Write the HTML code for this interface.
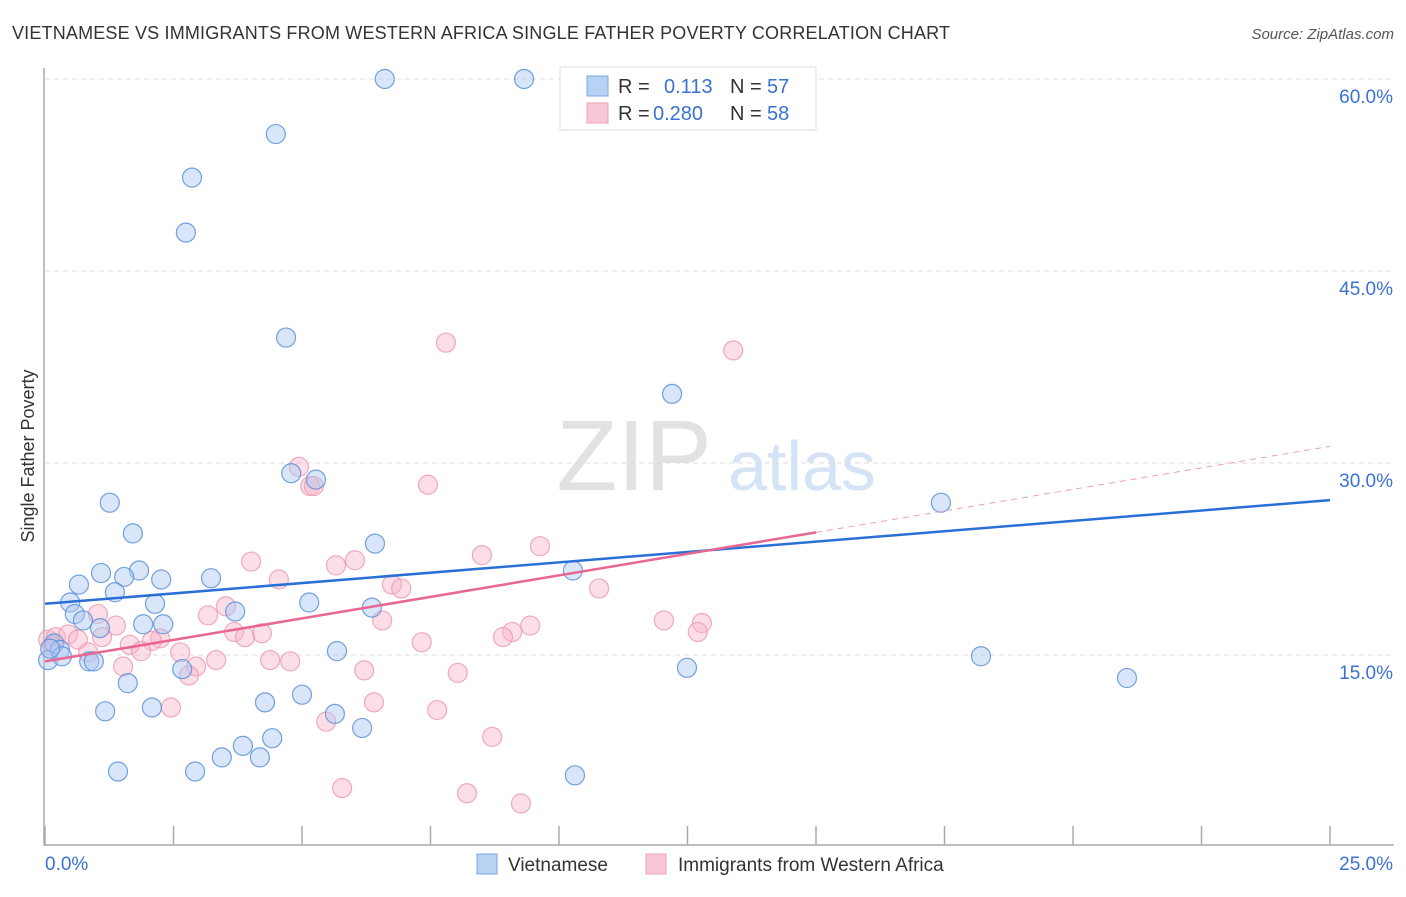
<!DOCTYPE html>
<html><head><meta charset="utf-8"><style>
body{margin:0;background:#fff;font-family:"Liberation Sans",sans-serif}
svg text{font-family:"Liberation Sans",sans-serif}
</style></head><body>
<svg id="chart" width="1406" height="892" viewBox="0 0 1406 892" xmlns="http://www.w3.org/2000/svg">
<text x="12" y="39" font-size="18" fill="#333" textLength="938" lengthAdjust="spacing">VIETNAMESE VS IMMIGRANTS FROM WESTERN AFRICA SINGLE FATHER POVERTY CORRELATION CHART</text>
<text x="1394" y="39" font-size="15" fill="#555" text-anchor="end" font-style="italic">Source: ZipAtlas.com</text>
<text transform="translate(34,456) rotate(-90)" font-size="18" fill="#333" text-anchor="middle">Single Father Poverty</text>
<g>
<text x="634" y="490" font-size="100" fill="#e2e2e2" text-anchor="middle" font-family="Liberation Serif,serif">ZIP</text>
<text x="802" y="490" font-size="70" fill="#d4e3f5" text-anchor="middle">atlas</text>
</g>
<g id="grid"></g>
<g id="axes"></g>
<g id="pts"></g>
<g id="trends"></g>
<g>
<rect x="560" y="67" width="256" height="63" fill="#fff" stroke="#ddd"/>
<rect x="587" y="76" width="21" height="20" fill="#b9d2f4" stroke="#7aa7e3"/>
<rect x="587" y="103" width="21" height="20" fill="#f9c8d6" stroke="#f0a0b8"/>
<text x="618" y="93" font-size="20" fill="#333">R =</text><text x="664" y="93" font-size="20" fill="#3a72d0">0.113</text>
<text x="730" y="93" font-size="20" fill="#333">N =</text><text x="767" y="93" font-size="20" fill="#3a72d0">57</text>
<text x="618" y="120" font-size="20" fill="#333">R =</text><text x="653" y="120" font-size="20" fill="#3a72d0">0.280</text>
<text x="730" y="120" font-size="20" fill="#333">N =</text><text x="767" y="120" font-size="20" fill="#3a72d0">58</text>
</g>
<g>
<rect x="477" y="854" width="20" height="20" fill="#b9d2f4" stroke="#7aa7e3"/>
<text x="508" y="871" font-size="19" fill="#333">Vietnamese</text>
<rect x="646" y="854" width="20" height="20" fill="#f9c8d6" stroke="#f0a0b8"/>
<text x="678" y="871" font-size="19" fill="#333">Immigrants from Western Africa</text>
</g>
</svg>
<script>
const xTicks=[0,2.5,5,7.5,10,12.5,15,17.5,20,22.5,25];
const yTicks=[15,30,45,60];
const yTickLabels=["15.0%","30.0%","45.0%","60.0%"];
const xEndLabels=["0.0%","25.0%"];
const blueX=[6.61,9.32,4.49,2.86,2.74,4.69,12.20,1.26,4.79,5.27,17.43,1.71,6.42,1.83,1.09,1.54,2.26,3.23,0.66,1.36,10.27,0.49,2.14,5.14,3.70,6.36,0.58,0.74,1.91,2.30,1.07,0.18,0.29,0.06,0.33,5.68,0.86,0.95,2.67,12.49,18.21,21.05,1.61,5.00,4.28,1.17,2.08,5.64,6.17,3.85,4.42,3.44,4.18,1.42,2.92,10.31,0.10];
const blueY=[60.0,60.0,55.7,52.3,48.0,39.8,35.4,26.9,29.2,28.7,26.9,24.5,23.7,21.6,21.4,21.1,20.9,21.0,20.5,19.9,21.6,19.1,19.0,19.1,18.4,18.7,18.2,17.7,17.4,17.4,17.1,15.9,15.4,14.6,14.9,15.3,14.5,14.5,13.9,14.0,14.9,13.2,12.8,11.9,11.3,10.6,10.9,10.4,9.3,7.9,8.5,7.0,7.0,5.9,5.9,5.6,15.5];
const pinkX=[7.80,13.39,4.94,5.16,5.23,7.45,9.63,4.01,6.03,5.66,8.50,4.55,6.75,6.93,10.78,1.03,3.52,3.17,6.56,12.04,12.78,9.44,9.09,12.70,8.91,3.68,4.22,1.38,0.06,0.21,0.45,0.64,1.11,1.65,2.24,2.08,1.87,2.63,0.84,7.33,3.89,2.94,2.80,1.52,3.33,4.77,4.38,6.21,8.03,7.63,6.40,5.47,2.45,8.70,5.78,8.21,9.26,0.14];
const pinkY=[39.4,38.8,29.7,28.2,28.2,28.3,23.5,22.3,22.4,22.0,22.8,20.9,20.5,20.2,20.2,18.2,18.8,18.1,17.7,17.7,17.5,17.3,16.8,16.8,16.4,16.8,16.7,17.3,16.2,16.4,16.6,16.2,16.4,15.8,16.3,16.1,15.3,15.2,15.2,16.0,16.4,14.1,13.4,14.1,14.6,14.5,14.6,13.8,13.6,10.7,11.3,9.8,10.9,8.6,4.6,4.2,3.4,15.7];
const blueTrend=[19.0,27.1];
const pinkTrend=[14.5,31.3];
const pinkSolidEnd=15;
const X=v=>45+v/25*1285, Y=v=>847-v*12.8;
const NS="http://www.w3.org/2000/svg";
function mk(p,t,a){const e=document.createElementNS(NS,t);for(const k in a)e.setAttribute(k,a[k]);p.appendChild(e);return e;}
const grid=document.getElementById('grid'),axes=document.getElementById('axes'),pts=document.getElementById('pts'),tr=document.getElementById('trends');
yTicks.forEach((v,i)=>{
 const l=mk(grid,'line',{x1:45,x2:1394,y1:Y(v),y2:Y(v),stroke:'#ddd','stroke-dasharray':'5,4'});
 
 
 const t=mk(axes,'text',{x:1393,y:Y(v)+24,'font-size':19,fill:'#3a72d0','text-anchor':'end'});t.textContent=yTickLabels[i];
 
 
});
const ax=mk(axes,'path',{d:'M44,68 V845 H1394',fill:'none',stroke:'#aaa','stroke-width':1.5});


xTicks.forEach(v=>{const t=mk(axes,'line',{x1:X(v),x2:X(v),y1:826,y2:845,stroke:'#aaa','stroke-width':1.5});
 
 });
const x0=mk(axes,'text',{x:45,y:870,'font-size':19,fill:'#3a72d0'});x0.textContent=xEndLabels[0];


const x1=mk(axes,'text',{x:1393,y:870,'font-size':19,fill:'#3a72d0','text-anchor':'end'});x1.textContent=xEndLabels[1];


function dots(xs,ys,fill,stroke,name){xs.forEach((v,i)=>{const c=mk(pts,'circle',{cx:X(v),cy:Y(ys[i]),r:9.5,fill:fill,stroke:stroke,'stroke-width':1.2});
 
 });}
dots(pinkX,pinkY,'rgba(248,182,202,0.45)','rgba(238,150,178,0.8)','point-western-africa');
dots(blueX,blueY,'rgba(170,200,242,0.45)','rgba(90,145,220,0.85)','point-vietnamese');
const bl=mk(tr,'line',{x1:X(0),y1:Y(blueTrend[0]),x2:X(25),y2:Y(blueTrend[1]),stroke:'#2a6fd6','stroke-width':2.5});


const pAt=x=>pinkTrend[0]+(pinkTrend[1]-pinkTrend[0])*x/25;
const pl=mk(tr,'line',{x1:X(0),y1:Y(pAt(0)),x2:X(pinkSolidEnd),y2:Y(pAt(pinkSolidEnd)),stroke:'#e8668f','stroke-width':2.5});


const pd=mk(tr,'line',{x1:X(pinkSolidEnd),y1:Y(pAt(pinkSolidEnd)),x2:X(25),y2:Y(pAt(25)),stroke:'#e8a0b8','stroke-width':1,'stroke-dasharray':'6,5'});


</script>
</body></html>
